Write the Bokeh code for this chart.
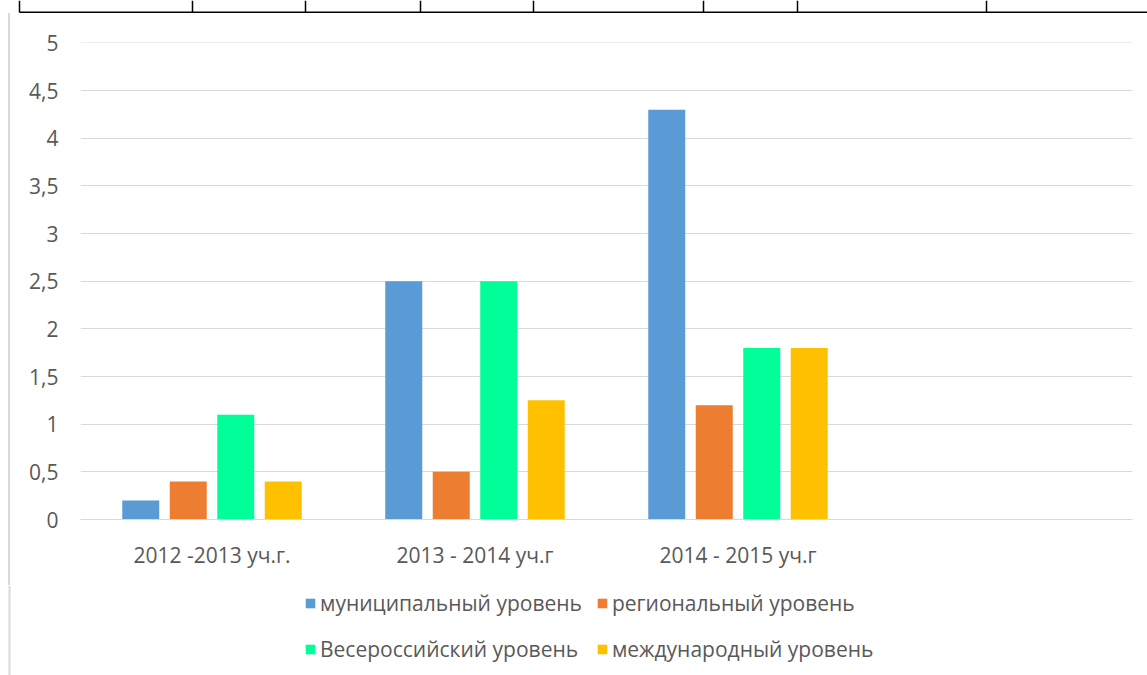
from bokeh.plotting import figure
from bokeh.models import FactorRange, Range1d, Legend, LegendItem, FixedTicker, ColumnDataSource, Div
from bokeh.layouts import column, row
from bokeh.transform import dodge
from bokeh.embed import file_html
from bokeh.resources import INLINE

categories = ["2012 -2013 уч.г.", "2013 - 2014 уч.г", "2014 - 2015 уч.г", " "]
series_names = ["муниципальный уровень", "региональный уровень", "Весероссийский уровень", "международный уровень"]
municipal = [0.2, 2.5, 4.3]
regional = [0.4, 0.5, 1.2]
allrussian = [1.1, 2.5, 1.8]
international = [0.4, 1.25, 1.8]
y_ticks = [0, 0.5, 1, 1.5, 2, 2.5, 3, 3.5, 4, 4.5, 5]
colors = ["#5B9BD5", "#ED7D31", "#00FF99", "#FFC000"]

FONT = "Open Sans"
TXT = "#595959"
FS = "21px"
FRAME_GRAY = "#D9D9D9"

def blank(w, h, xr, yr):
    f = figure(width=w, height=h, x_range=xr, y_range=yr, output_backend="svg",
               toolbar_location=None, x_axis_location=None, y_axis_location=None, min_border=0)
    f.outline_line_color = None
    f.grid.visible = False
    f.border_fill_color = "white"
    f.background_fill_color = "white"
    return f

# --- top strip: the edge of the document table above the chart
top = blank(1147, 13, Range1d(0, 1147), Range1d(13, 0))
table_cols = [19, 192, 305, 420, 533, 703, 797, 986]
top.segment(x0=19, y0=12, x1=1147, y1=12, line_color="black", line_width=2)
top.segment(x0=table_cols, y0=[0] * len(table_cols), x1=table_cols, y1=[12] * len(table_cols),
            line_color="black", line_width=1.5)

# --- left border of the chart area
H1 = 572
strip = Div(text="", width=2, height=H1, margin=(0, 0, 0, 8),
            styles={"background-color": FRAME_GRAY})

# --- main chart
src = ColumnDataSource(dict(cat=categories[:3], m=municipal, r=regional, a=allrussian, i=international))
p = figure(width=1137, height=H1, x_range=FactorRange(factors=categories, range_padding=0),
           y_range=Range1d(0, 5.005), output_backend="svg", toolbar_location=None,
           min_border_left=70, min_border_right=15, min_border_top=29, min_border_bottom=66)
p.outline_line_color = None
p.background_fill_color = "white"
p.border_fill_color = "white"

offs = [-0.2709, -0.0903, 0.0903, 0.2709]
cols = ["m", "r", "a", "i"]
for off, c, col in zip(offs, cols, colors):
    p.vbar(x=dodge("cat", off, range=p.x_range), top=c, width=0.1407, source=src,
           fill_color=col, line_color=None)

p.xgrid.grid_line_color = None
p.ygrid.grid_line_color = FRAME_GRAY
p.ygrid.grid_line_width = 1
p.yaxis.ticker = FixedTicker(ticks=y_ticks)
p.yaxis.major_label_overrides = {t: (str(t).replace(".", ",") if t != int(t) else str(int(t))) for t in y_ticks}
p.yaxis.axis_line_color = None
p.yaxis.major_tick_line_color = None
p.yaxis.minor_tick_line_color = None
p.yaxis.major_label_standoff = 16
p.yaxis.major_label_text_font = FONT
p.yaxis.major_label_text_font_size = FS
p.yaxis.major_label_text_color = TXT

p.xaxis.axis_line_color = FRAME_GRAY
p.xaxis.axis_line_width = 1
p.xaxis.major_tick_line_color = None
p.xaxis.minor_tick_line_color = None
p.xaxis.major_label_standoff = 15
p.xaxis.major_label_text_font = FONT
p.xaxis.major_label_text_font_size = FS
p.xaxis.major_label_text_color = TXT

# --- legend panel
lg = blank(1147, 90, Range1d(0, 1147), Range1d(0, 90))
lg.quad(left=8, right=10, bottom=0, top=90, fill_color=FRAME_GRAY, line_color=None)
dummy = ColumnDataSource(dict(x=[-100], top=[0]))
lrs = [lg.vbar(x="x", top="top", width=1, source=dummy, fill_color=c, line_color=None) for c in colors]
legend = Legend(items=[LegendItem(label=n, renderers=[r]) for n, r in zip(series_names, lrs)],
                ncols=2, orientation="horizontal",
                location=(304, 10), padding=0, margin=0, spacing=14, label_standoff=4,
                glyph_width=12, glyph_height=12, label_height=32,
                label_text_font=FONT, label_text_font_size=FS, label_text_color=TXT,
                border_line_color=None, background_fill_alpha=0)
lg.add_layout(legend, "center")

layout = column(top, row(strip, p), lg)
open("out.html", "w").write(file_html(layout, INLINE))
